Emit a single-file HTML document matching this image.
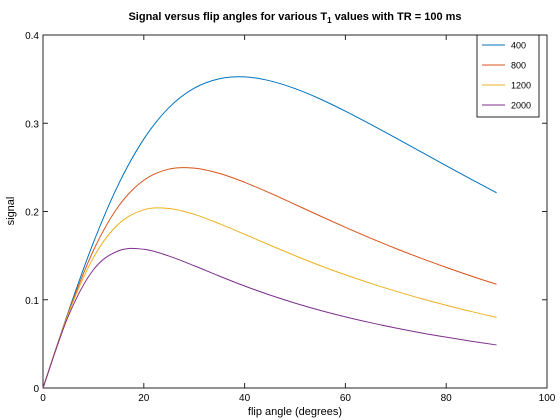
<!DOCTYPE html>
<html><head><meta charset="utf-8"><style>
body{margin:0;background:#fff;}
svg{display:block;font-family:"Liberation Sans",sans-serif;}
</style></head><body>
<svg id="chart" width="560" height="420">
<text x="295" y="20" text-anchor="middle" font-size="11" font-weight="bold">Signal versus flip angles for various T<tspan font-size="8" dy="3">1</tspan><tspan dy="-3"> values with TR = 100 ms</tspan></text>
<text x="295" y="415" text-anchor="middle" font-size="11">flip angle (degrees)</text>
<text x="14" y="211" text-anchor="middle" font-size="11" transform="rotate(-90 14 211)">signal</text>
<g id="axes"></g>
<g id="series"></g>
<g id="legend"></g>
</svg>
<script>
const angles=[0,5,10,15,20,25,30,35,40,45,50,55,60,65,70,75,80,85,90];
const seriesNames=["400","800","1200","2000"];
const s400=[0,.0860,.1648,.2311,.2821,.3178,.3397,.3504,.3525,.3481,.3393,.3275,.3137,.2988,.2833,.2676,.2519,.2364,.2212];
const s800=[0,.0847,.1558,.2061,.2354,.2481,.2492,.2432,.2331,.2210,.2080,.1949,.1821,.1698,.1581,.1471,.1367,.1268,.1175];
const s1200=[0,.0835,.1478,.1860,.2019,.2034,.1968,.1862,.1742,.1619,.1500,.1387,.1283,.1186,.1097,.1014,.0938,.0866,.0800];
const s2000=[0,.0811,.1340,.1555,.1572,.1495,.1385,.1268,.1156,.1054,.0962,.0880,.0806,.0740,.0680,.0625,.0576,.0530,.0488];
const xTicks=[0,20,40,60,80,100];
const yTicks=[0,0.1,0.2,0.3,0.4];
const yTickLabels=["0","0.1","0.2","0.3","0.4"];

const NS="http://www.w3.org/2000/svg";
const L=43,R=547,T=35,B=388;
const xs=v=>L+(v/100)*(R-L);
const ys=v=>B-(v/0.4)*(B-T);
function mk(tag,attrs,parent){const e=document.createElementNS(NS,tag);for(const k in attrs)e.setAttribute(k,attrs[k]);parent.appendChild(e);return e;}
const axes=document.getElementById('axes');
const frame=mk('rect',{x:L,y:T,width:R-L,height:B-T,fill:'none',stroke:'#262626','stroke-width':1},axes);


xTicks.forEach(v=>{
  const x=xs(v);
  mk('line',{x1:x,y1:B,x2:x,y2:B-5,stroke:'#262626'},axes);
  mk('line',{x1:x,y1:T,x2:x,y2:T+5,stroke:'#262626'},axes);
  const t=mk('text',{x:x,y:B+13,'text-anchor':'middle','font-size':10},axes);
  t.textContent=v;
  
  
});
yTicks.forEach((v,i)=>{
  const y=ys(v);
  mk('line',{x1:L,y1:y,x2:L+5,y2:y,stroke:'#262626'},axes);
  mk('line',{x1:R,y1:y,x2:R-5,y2:y,stroke:'#262626'},axes);
  const t=mk('text',{x:L-4,y:y+4,'text-anchor':'end','font-size':10},axes);
  t.textContent=yTickLabels[i];
  
  
});
const colors=["#0072BD","#D95319","#EDB120","#7E2F8E"];
const data=[s400,s800,s1200,s2000];
const g=document.getElementById('series');
function pathFor(vals){
  const p=angles.map((a,i)=>[xs(a),ys(vals[i])]);
  let d=`M${p[0][0]},${p[0][1]}`;
  for(let i=0;i<p.length-1;i++){
    const p0=p[i-1]||p[i],p1=p[i],p2=p[i+1],p3=p[i+2]||p2;
    const c1=[p1[0]+(p2[0]-p0[0])/6,p1[1]+(p2[1]-p0[1])/6];
    const c2=[p2[0]-(p3[0]-p1[0])/6,p2[1]-(p3[1]-p1[1])/6];
    d+=` C${c1[0]},${c1[1]} ${c2[0]},${c2[1]} ${p2[0]},${p2[1]}`;
  }
  return d;
}
data.forEach((vals,i)=>{
  const path=mk('path',{d:pathFor(vals),fill:'none',stroke:colors[i],'stroke-width':1},g);
  
  
});
const lg=document.getElementById('legend');
const box=mk('rect',{x:477,y:35,width:62,height:82,fill:'#fff',stroke:'#262626'},lg);


seriesNames.forEach((n,i)=>{
  const y=45+i*20;
  mk('line',{x1:482,y1:y,x2:505,y2:y,stroke:colors[i]},lg);
  const t=mk('text',{x:511,y:y+3.5,'font-size':9},lg);
  t.textContent=n;
  
  
});
</script>
</body></html>
